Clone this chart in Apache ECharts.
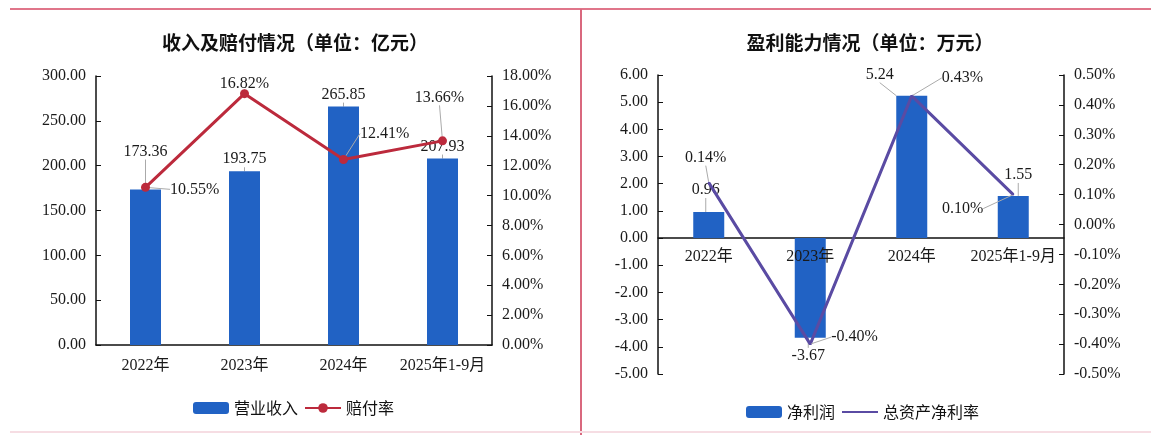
<!DOCTYPE html>
<html><head><meta charset="utf-8">
<script src="https://cdn.jsdelivr.net/npm/echarts@6/dist/echarts.min.js"></script>
<style>html,body{margin:0;padding:0;background:#fff}#c{width:1151px;height:435px}</style>
</head><body><div id="c"></div>
<script>
const categories = ['2022年', '2023年', '2024年', '2025年1-9月'];
const revenue = [173.36, 193.75, 265.85, 207.93];
const payoutRate = [10.55, 16.82, 12.41, 13.66];
const netProfit = [0.96, -3.67, 5.24, 1.55];
const roa = [0.14, -0.40, 0.43, 0.10];

const SERIF = '"Liberation Serif", "Noto Sans CJK SC", serif';
const CJK = '"Noto Sans CJK SC", sans-serif';
const BLUE = '#2162C4';
const RED = '#BC2A3C';
const PURPLE = '#5A4BA3';
const lbl = {fontFamily: SERIF, fontSize: 16, color: '#1a1a1a'};

// label placement (layout only)
const revPos = ['top', 'top', 'top', 'top'];
const revOff = [[0, -26], [0, 0], [0, 0], [0, 0]];
const ratePos = ['right', 'top', 'right', 'top'];
const rateOff = [[14, 2], [0, 9], [6, -26], [-3, -25]];
const npPos = ['top', 'bottom', 'top', 'top'];
const npOff = [[-3, -10], [-2, 6], [-32, -9], [5, -9]];
const roaPos = ['top', 'right', 'right', 'left'];
const roaOff = [[-3, -10], [14, -7], [23, -18], [-23, 14]];

const withLabel = (vals, pos) => vals.map((v, i) => ({value: v, label: {position: pos[i]}}));

const chart = echarts.init(document.getElementById('c'));
const yBase = {
  axisLine: {show: true, lineStyle: {color: '#111', width: 1.5}},
  axisTick: {show: true, inside: true, length: 5, lineStyle: {color: '#111'}},
  splitLine: {show: false},
  axisLabel: Object.assign({}, lbl, {margin: 10})
};
const leader = {show: true, lineStyle: {color: '#aaa', width: 1}};
chart.setOption({
  animation: false,
  title: [
    {text: '收入及赔付情况（单位：亿元）', left: 290, textAlign: 'center', top: 28,
     textStyle: {fontFamily: CJK, fontSize: 19, fontWeight: 'bold', color: '#111'}},
    {text: '盈利能力情况（单位：万元）', left: 865, textAlign: 'center', top: 28,
     textStyle: {fontFamily: CJK, fontSize: 19, fontWeight: 'bold', color: '#111'}}
  ],
  legend: [
    {data: ['营业收入', '赔付率'], left: 188, top: 395, itemWidth: 36, itemHeight: 12, itemGap: 6,
     textStyle: {fontFamily: CJK, fontSize: 16, color: '#111'}},
    {data: ['净利润', {name: '总资产净利率', itemStyle: {opacity: 0}}], left: 741, top: 399,
     itemWidth: 36, itemHeight: 12, itemGap: 6,
     textStyle: {fontFamily: CJK, fontSize: 16, color: '#111'}}
  ],
  grid: [
    {left: 96, top: 76, width: 396, height: 269},
    {left: 658, top: 75, width: 406, height: 299},
    {left: 658, top: 75, width: 406, height: 163}
  ],
  xAxis: [
    {type: 'category', gridIndex: 0, data: categories,
     axisLine: {lineStyle: {color: '#111', width: 1.5}},
     axisTick: {inside: true, length: 5, lineStyle: {color: '#111'}},
     axisLabel: Object.assign({}, lbl, {margin: 13, interval: 0, hideOverlap: false})},
    {type: 'category', gridIndex: 1, data: categories,
     axisLine: {onZero: true, onZeroAxisIndex: 2, lineStyle: {color: '#111', width: 1.5}},
     axisTick: {inside: true, length: 5, lineStyle: {color: '#111'}},
     axisLabel: {show: false}},
    {type: 'category', gridIndex: 2, data: categories, z: 5,
     axisLine: {show: false}, axisTick: {show: false},
     axisLabel: Object.assign({}, lbl, {margin: 11, interval: 0, hideOverlap: false})}
  ],
  yAxis: [
    Object.assign({}, yBase, {type: 'value', gridIndex: 0, min: 0, max: 300, interval: 50,
      axisLabel: Object.assign({}, yBase.axisLabel, {formatter: v => v.toFixed(2)})}),
    Object.assign({}, yBase, {type: 'value', gridIndex: 0, position: 'right', min: 0, max: 18, interval: 2,
      axisLabel: Object.assign({}, yBase.axisLabel, {formatter: v => v.toFixed(2) + '%'})}),
    Object.assign({}, yBase, {type: 'value', gridIndex: 1, min: -5, max: 6, interval: 1,
      axisLabel: Object.assign({}, yBase.axisLabel, {formatter: v => v.toFixed(2)})}),
    Object.assign({}, yBase, {type: 'value', gridIndex: 1, position: 'right', min: -0.5, max: 0.5, interval: 0.1,
      axisLabel: Object.assign({}, yBase.axisLabel, {formatter: v => v.toFixed(2) + '%'})}),
    {type: 'value', gridIndex: 2, min: 0, max: 1, show: false}
  ],
  series: [
    {name: '营业收入', type: 'bar', xAxisIndex: 0, yAxisIndex: 0, data: withLabel(revenue, revPos), barWidth: 31,
     itemStyle: {color: BLUE},
     label: Object.assign({show: true, distance: 4, formatter: p => p.value.toFixed(2)}, lbl),
     labelLine: leader,
     labelLayout: p => ({dx: revOff[p.dataIndex][0], dy: revOff[p.dataIndex][1]})},
    {name: '赔付率', type: 'line', xAxisIndex: 0, yAxisIndex: 1, data: withLabel(payoutRate, ratePos),
     symbol: 'circle', symbolSize: 9, lineStyle: {color: RED, width: 3}, itemStyle: {color: RED},
     label: Object.assign({show: true, formatter: p => p.value.toFixed(2) + '%', distance: 6}, lbl),
     labelLine: leader,
     labelLayout: p => ({dx: rateOff[p.dataIndex][0], dy: rateOff[p.dataIndex][1]})},
    {name: '净利润', type: 'bar', xAxisIndex: 1, yAxisIndex: 2, data: withLabel(netProfit, npPos), barWidth: 31,
     itemStyle: {color: BLUE},
     label: Object.assign({show: true, formatter: p => p.value.toFixed(2), distance: 4}, lbl),
     labelLine: leader,
     labelLayout: p => ({dx: npOff[p.dataIndex][0], dy: npOff[p.dataIndex][1]})},
    {name: '总资产净利率', type: 'line', xAxisIndex: 1, yAxisIndex: 3, data: withLabel(roa, roaPos),
     symbol: 'circle', symbolSize: 2, showSymbol: true,
     lineStyle: {color: PURPLE, width: 3}, itemStyle: {color: PURPLE},
     label: Object.assign({show: true, formatter: p => p.value.toFixed(2) + '%', distance: 6}, lbl),
     labelLine: leader,
     labelLayout: p => ({dx: roaOff[p.dataIndex][0], dy: roaOff[p.dataIndex][1]})}
  ],
  graphic: [
    {type: 'line', shape: {x1: 10, y1: 9, x2: 1151, y2: 9}, style: {stroke: '#E0758A', lineWidth: 2}},
    {type: 'line', shape: {x1: 581, y1: 9, x2: 581, y2: 435}, style: {stroke: '#D9687E', lineWidth: 2}},
    {type: 'line', shape: {x1: 10, y1: 432, x2: 1151, y2: 432}, style: {stroke: '#F6DDE3', lineWidth: 2}}
  ]
});
</script></body></html>
